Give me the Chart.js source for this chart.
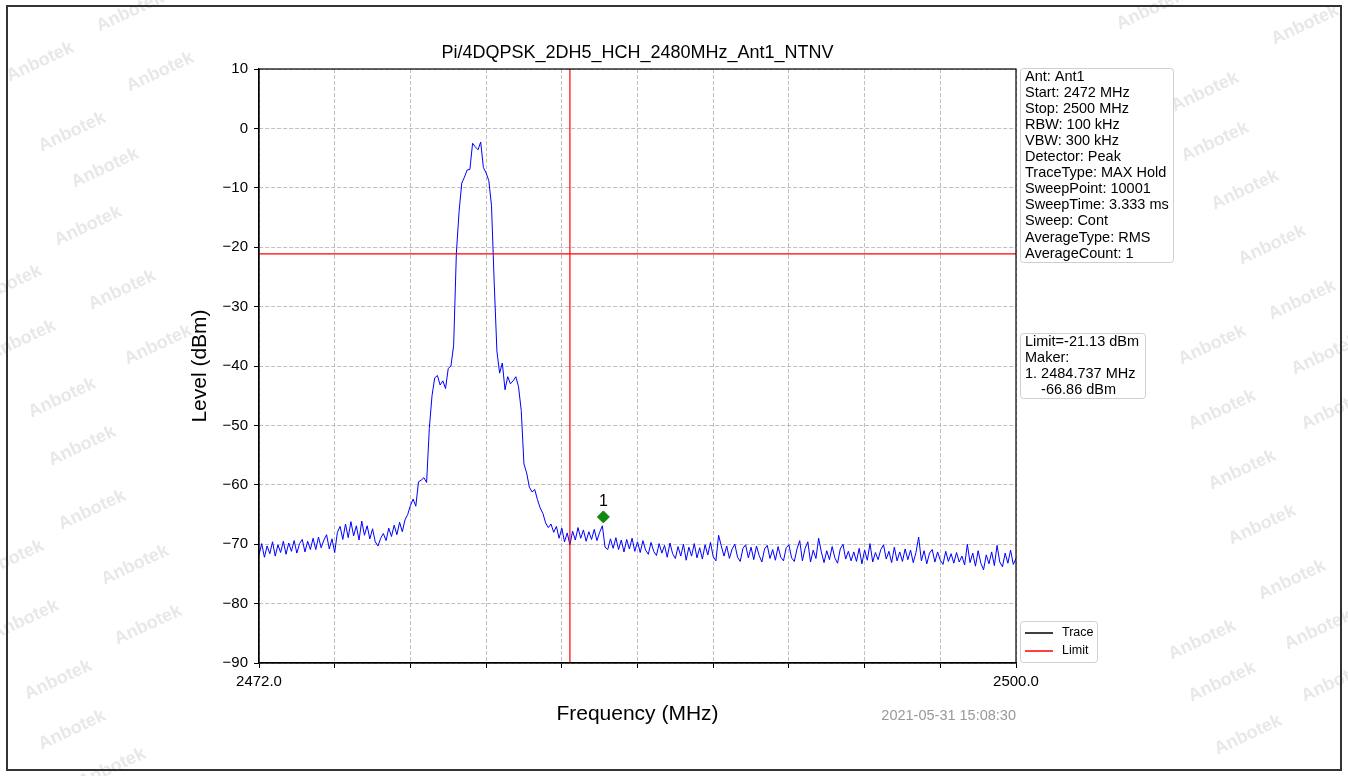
<!DOCTYPE html>
<html>
<head>
<meta charset="utf-8">
<script src="https://cdn.jsdelivr.net/npm/chart.js@4.4.1/dist/chart.umd.min.js"></script>
<style>
  html, body { margin: 0; padding: 0; background: #fff; }
  #wrap { width: 1348px; height: 776px; }
</style>
</head>
<body>
<div id="wrap"><canvas id="myChart" width="1348" height="776"></canvas></div>
<script>
const chartTitle = "Pi/4DQPSK_2DH5_HCH_2480MHz_Ant1_NTNV";

// trace: one level per 0.1 MHz from 2472.0 to 2500.0
const freqStart = 2472.0;
const freqStep = 0.1;
const levels = [
  -71.8, -69.9, -72.2, -70.3, -71.6, -69.6, -72.0, -70.1, -71.4, -69.5,
  -71.7, -69.8, -71.2, -69.4, -71.5, -69.9, -69.2, -71.3, -69.5, -70.9,
  -69.0, -70.9, -68.8, -70.6, -69.3, -68.4, -70.8, -69.1, -71.4, -68.0,
  -67.0, -69.2, -66.6, -68.9, -66.2, -68.6, -66.9, -69.3, -66.1, -68.5,
  -66.9, -69.1, -67.4, -69.6, -70.3, -69.0, -68.2, -69.4, -67.3, -68.7,
  -66.8, -68.4, -66.3, -67.9, -65.9, -65.0, -63.5, -62.4, -63.6, -59.5,
  -59.2, -58.8, -59.6, -50.5, -45.0, -42.0, -41.6, -43.2, -42.5, -43.8,
  -40.4, -40.0, -36.5, -21.0, -14.0, -9.2, -8.2, -7.0, -6.9, -2.5,
  -3.1, -3.6, -2.3, -6.6, -7.5, -8.8, -13.0, -26.0, -37.5, -41.2,
  -39.5, -44.0, -41.8, -43.0, -42.5, -41.8, -43.5, -47.5, -56.5, -58.0,
  -60.4, -61.2, -60.8, -62.5, -63.9, -64.8, -66.4, -67.2, -66.6, -68.0,
  -67.0, -69.0, -67.3, -69.6, -68.1, -70.1, -67.8, -69.3, -67.2, -69.0,
  -67.6, -69.5, -67.9, -69.2, -67.5, -69.4, -68.0, -66.9, -70.5, -70.9,
  -69.1, -70.7, -68.9, -70.9, -69.3, -71.3, -69.2, -70.8, -69.0, -71.2,
  -69.6, -71.4, -69.4, -71.0, -71.7, -69.7, -71.2, -71.9, -69.9, -71.5,
  -70.2, -72.2, -69.8, -71.6, -72.4, -70.4, -72.0, -70.0, -72.7, -70.5,
  -72.0, -69.9, -72.3, -70.6, -72.5, -70.1, -71.8, -69.7, -72.1, -72.8,
  -68.5, -70.3, -72.0, -70.3, -72.4, -70.8, -70.0, -72.2, -72.9, -70.7,
  -70.1, -72.3, -70.5, -72.6, -70.3, -71.9, -73.0, -70.8, -70.2, -72.4,
  -70.9, -72.7, -70.4, -72.2, -72.8, -70.6, -70.1, -72.3, -72.9, -70.8,
  -69.4, -72.8, -70.7, -69.6, -73.0, -71.0, -72.4, -69.0, -71.3, -73.1,
  -71.1, -72.6, -70.4, -72.3, -73.2, -70.8, -70.0, -72.5, -71.2, -72.8,
  -71.3, -72.9, -70.7, -73.3, -71.0, -72.7, -69.9, -73.0, -71.4, -72.6,
  -70.9, -70.1, -72.5, -71.2, -73.1, -70.5, -72.8, -71.3, -72.9, -70.8,
  -72.6, -71.0, -73.1, -71.4, -68.8, -72.8, -71.1, -73.3, -71.5, -70.9,
  -73.0, -71.3, -72.7, -73.4, -71.2, -72.9, -71.6, -73.2, -71.4, -73.0,
  -72.0, -73.5, -70.0, -73.1, -71.5, -73.7, -71.1, -73.2, -74.3, -71.8,
  -73.3, -71.3, -73.6, -70.2, -73.0, -73.8, -71.5, -73.2, -71.0, -73.4,
  -72.4
];

const limitLevel = -21.13;
const bandEdge = 2483.5;
const markerFreq = 2484.737;
const markerLevel = -66.86;
const markerPlotLevel = -65.4; // where the diamond sits in the picture

const xTickValues = [2472.0, 2474.8, 2477.6, 2480.4, 2483.2, 2486.0, 2488.8, 2491.6, 2494.4, 2497.2, 2500.0];
const xTickLabels = ["2472.0", "", "", "", "", "", "", "", "", "", "2500.0"];
const yTicks = [-90, -80, -70, -60, -50, -40, -30, -20, -10, 0, 10];

const infoLines = [
  "Ant: Ant1", "Start: 2472 MHz", "Stop: 2500 MHz", "RBW: 100 kHz", "VBW: 300 kHz",
  "Detector: Peak", "TraceType: MAX Hold", "SweepPoint: 10001", "SweepTime: 3.333 ms",
  "Sweep: Cont", "AverageType: RMS", "AverageCount: 1"
];
const limitLines = ["Limit=-21.13 dBm", "Maker:", "1. 2484.737 MHz", "    -66.86 dBm"];
const stamp = "2021-05-31 15:08:30";

const FONT = "'Liberation Sans', Arial, sans-serif";

const traceData = levels.map((v, i) => ({ x: +(freqStart + i * freqStep).toFixed(1), y: v }));

const watermarks = [
  [130, 12], [40, 62], [160, 72], [72, 132], [105, 168], [88, 226], [122, 290], [8, 285],
  [22, 340], [158, 345], [62, 398], [82, 446], [92, 510], [135, 565], [10, 560], [25, 620],
  [148, 625], [58, 680], [72, 730], [112, 768],
  [1150, 10], [1305, 25], [1205, 92], [1215, 142], [1245, 190], [1272, 245], [1302, 300],
  [1212, 345], [1325, 355], [1222, 410], [1335, 410], [1242, 470], [1262, 525], [1292, 580],
  [1202, 640], [1318, 630], [1222, 682], [1335, 682], [1248, 735]
];

function roundBox(ctx, x, y, w, h, r) {
  ctx.beginPath();
  ctx.moveTo(x + r, y);
  ctx.lineTo(x + w - r, y);
  ctx.quadraticCurveTo(x + w, y, x + w, y + r);
  ctx.lineTo(x + w, y + h - r);
  ctx.quadraticCurveTo(x + w, y + h, x + w - r, y + h);
  ctx.lineTo(x + r, y + h);
  ctx.quadraticCurveTo(x, y + h, x, y + h - r);
  ctx.lineTo(x, y + r);
  ctx.quadraticCurveTo(x, y, x + r, y);
  ctx.closePath();
}

const decor = {
  id: "decor",
  beforeDraw(chart) {
    const ctx = chart.ctx;
    ctx.save();
    ctx.fillStyle = "#fff";
    ctx.fillRect(0, 0, chart.width, chart.height);
    ctx.font = "600 18px " + FONT;
    ctx.fillStyle = "#e8e8e8";
    ctx.textAlign = "center";
    ctx.textBaseline = "middle";
    watermarks.forEach(([x, y]) => {
      ctx.save();
      ctx.translate(x, y);
      ctx.rotate(-25 * Math.PI / 180);
      ctx.fillText("Anbotek", 0, 0);
      ctx.restore();
    });
    ctx.restore();
  },
  afterDraw(chart) {
    const ctx = chart.ctx;
    const a = chart.chartArea;
    const xs = chart.scales.x, ys = chart.scales.y;
    ctx.save();
    // plot frame
    ctx.strokeStyle = "#000";
    ctx.lineWidth = 1.2;
    ctx.strokeRect(a.left, a.top, a.right - a.left, a.bottom - a.top);

    // title
    ctx.fillStyle = "#000";
    ctx.font = "18px " + FONT;
    ctx.textAlign = "center";
    ctx.textBaseline = "middle";
    ctx.fillText(chartTitle, (a.left + a.right) / 2, 53);

    // marker label
    ctx.font = "16px " + FONT;
    ctx.textBaseline = "bottom";
    ctx.fillText("1", xs.getPixelForValue(markerFreq), ys.getPixelForValue(markerPlotLevel) - 7);

    // info box
    ctx.textAlign = "left";
    ctx.textBaseline = "middle";
    ctx.font = "14.5px " + FONT;
    ctx.fillStyle = "rgba(255,255,255,0.85)";
    ctx.strokeStyle = "#cfcfcf";
    ctx.lineWidth = 1;
    roundBox(ctx, 1020.5, 68.5, 153, 194, 3);
    ctx.fill(); ctx.stroke();
    ctx.fillStyle = "#000";
    infoLines.forEach((t, i) => ctx.fillText(t, 1025, 76.5 + i * 16.1));

    roundBox(ctx, 1020.5, 333.5, 125, 65, 3);
    ctx.fillStyle = "rgba(255,255,255,0.85)";
    ctx.fill(); ctx.stroke();
    ctx.fillStyle = "#000";
    limitLines.forEach((t, i) => ctx.fillText(t, 1025, 341.5 + i * 16.1));

    // legend
    roundBox(ctx, 1020.5, 621.5, 77, 41, 3);
    ctx.fillStyle = "rgba(255,255,255,0.85)";
    ctx.fill(); ctx.stroke();
    ctx.lineWidth = 1.5;
    ctx.strokeStyle = "#000";
    ctx.beginPath(); ctx.moveTo(1025, 633); ctx.lineTo(1053, 633); ctx.stroke();
    ctx.strokeStyle = "#ff0000";
    ctx.beginPath(); ctx.moveTo(1025, 651); ctx.lineTo(1053, 651); ctx.stroke();
    ctx.fillStyle = "#000";
    ctx.font = "12.5px " + FONT;
    ctx.fillText("Trace", 1062, 633);
    ctx.fillText("Limit", 1062, 651);

    // timestamp
    ctx.fillStyle = "#999";
    ctx.font = "14.5px " + FONT;
    ctx.textAlign = "right";
    ctx.fillText(stamp, 1016, 716);

    // outer frame
    ctx.strokeStyle = "#333";
    ctx.lineWidth = 2;
    ctx.strokeRect(7, 6, 1334, 764);
    ctx.restore();
  }
};

new Chart(document.getElementById("myChart"), {
  type: "line",
  data: {
    datasets: [
      {
        label: "Trace",
        data: traceData,
        borderColor: "#0000ff",
        borderWidth: 1,
        pointRadius: 0,
        tension: 0,
        order: 3,
      },
      {
        label: "Limit",
        data: [{ x: 2472, y: limitLevel }, { x: 2500, y: limitLevel }],
        borderColor: "#ff0000",
        borderWidth: 1.2,
        pointRadius: 0,
        order: 2,
      },
      {
        label: "Band edge",
        data: [{ x: bandEdge, y: -90 }, { x: bandEdge, y: 10 }],
        borderColor: "#ff0000",
        borderWidth: 1.2,
        pointRadius: 0,
        order: 2,
      },
      {
        label: "Marker",
        data: [{ x: markerFreq, y: markerPlotLevel }],
        showLine: false,
        pointStyle: "rectRot",
        pointRadius: 6,
        backgroundColor: "#118811",
        borderColor: "#118811",
        order: 1,
      },
    ],
  },
  options: {
    responsive: false,
    animation: false,
    layout: { padding: { left: 177, right: 332, top: 69, bottom: 49 } },
    plugins: {
      legend: { display: false },
      tooltip: { enabled: false },
      title: { display: false },
    },
    scales: {
      x: {
        type: "linear",
        min: 2472,
        max: 2500,
        afterBuildTicks: (scale) => {
          scale.ticks = xTickValues.map((v) => ({ value: v }));
        },
        afterFit: (scale) => { scale.height = 64; },
        ticks: {
          autoSkip: false,
          maxRotation: 0,
          color: "#000",
          padding: 5,
          font: { family: FONT, size: 15 },
          callback: (v, i) => xTickLabels[i],
        },
        grid: { color: "#b0b0b0", lineWidth: 0.8, tickColor: "#000", tickLength: 5, tickWidth: 1 },
        border: { color: "#000", width: 1.2, dash: [4, 2] },
        title: {
          display: true,
          text: "Frequency (MHz)",
          color: "#000",
          font: { family: FONT, size: 21 },
          padding: { top: 0, bottom: 0 },
        },
      },
      y: {
        min: -90,
        max: 10,
        afterBuildTicks: (scale) => {
          scale.ticks = yTicks.map((v) => ({ value: v }));
        },
        afterFit: (scale) => { scale.width = 82; },
        ticks: {
          color: "#000",
          padding: 6,
          font: { family: FONT, size: 15 },
          callback: (v) => String(v).replace("-", "\u2212"),
        },
        grid: { color: "#b0b0b0", lineWidth: 0.8, tickColor: "#000", tickLength: 5, tickWidth: 1 },
        border: { color: "#000", width: 1.2, dash: [4, 2] },
        title: {
          display: true,
          text: "Level (dBm)",
          color: "#000",
          font: { family: FONT, size: 21 },
          padding: { top: 11, bottom: 0 },
        },
      },
    },
  },
  plugins: [decor],
});
</script>
</body>
</html>
